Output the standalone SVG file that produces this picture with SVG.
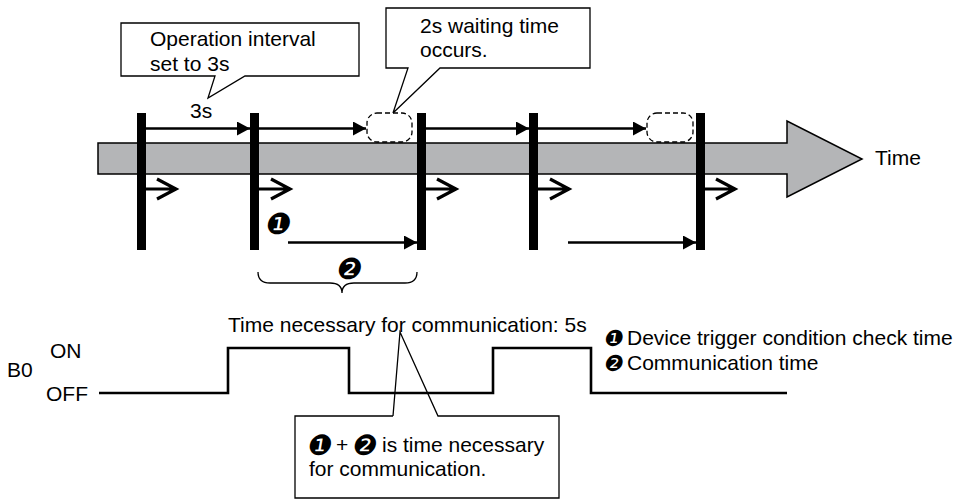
<svg xmlns="http://www.w3.org/2000/svg" width="967" height="500" viewBox="0 0 967 500">
<style>
.t{font-family:"Liberation Sans",Arial,sans-serif;font-size:21px;fill:#000}
.n{font-family:"DejaVu Sans",sans-serif;fill:#000}
.ln{stroke:#000;stroke-width:2.6;fill:none}
.thin{stroke:#000;stroke-width:1.3;fill:none}
.bar{fill:#000}
.dash{stroke:#000;stroke-width:1.3;fill:#fff;stroke-dasharray:5 3}
.chev{stroke:#000;stroke-width:3.2;fill:none;stroke-linejoin:miter;stroke-miterlimit:10}
</style>
<defs>
<marker id="ah" viewBox="0 0 13 14" refX="13" refY="7" markerWidth="13" markerHeight="14" markerUnits="userSpaceOnUse" orient="auto">
<path d="M0,0 L13,7 L0,14 Z" fill="#000"/>
</marker>
</defs>
<rect width="967" height="500" fill="#fff"/>

<g id="timeline">
<path d="M98,143 H787 V121 L862,159 L787,197 V174 H98 Z" fill="#b4b5b7" stroke="#000" stroke-width="1.5"/>
<text class="t" x="875" y="165">Time</text>
</g>

<g id="bars">
<rect class="bar" x="137" y="113" width="9" height="137"/>
<rect class="bar" x="250" y="113" width="9" height="137"/>
<rect class="bar" x="417" y="113" width="9" height="137"/>
<rect class="bar" x="529" y="113" width="9" height="137"/>
<rect class="bar" x="696" y="113" width="9" height="137"/>
</g>

<g id="waits">
<rect class="dash" x="367" y="113" width="45" height="29" rx="10"/>
<rect class="dash" x="647" y="113" width="46" height="29" rx="10"/>
</g>

<g id="connectors">
<line class="ln" x1="146" y1="128.5" x2="250" y2="128.5" marker-end="url(#ah)"/>
<line class="ln" x1="259" y1="128.5" x2="366" y2="128.5" marker-end="url(#ah)"/>
<line class="ln" x1="426" y1="128.5" x2="529" y2="128.5" marker-end="url(#ah)"/>
<line class="ln" x1="538" y1="128.5" x2="646" y2="128.5" marker-end="url(#ah)"/>
<line class="ln" x1="288" y1="242.5" x2="417" y2="242.5" marker-end="url(#ah)"/>
<line class="ln" x1="568" y1="242.5" x2="696" y2="242.5" marker-end="url(#ah)"/>
<path class="chev" d="M146,189 H174 M157,179 L176,189 L157,199"/>
<path class="chev" d="M259,189 H288 M271,179 L290,189 L271,199"/>
<path class="chev" d="M426,189 H454 M437,179 L456,189 L437,199"/>
<path class="chev" d="M538,189 H567 M550,179 L569,189 L550,199"/>
<path class="chev" d="M705,189 H733 M716,179 L735,189 L716,199"/>
</g>

<g id="callout-interval">
<path d="M121,23 H359 V76 H245 L208,98 L215,76 H121 Z" fill="#fff" stroke="#000" stroke-width="1.3"/>
<text class="t" x="150" y="46">Operation interval</text>
<text class="t" x="150" y="71">set to 3s</text>
</g>
<text class="t" x="190" y="118">3s</text>

<g id="callout-wait">
<path d="M386,8 H590 V68 H440 L393,113 L408,68 H386 Z" fill="#fff" stroke="#000" stroke-width="1.3"/>
<text class="t" x="420" y="33">2s waiting time</text>
<text class="t" x="420" y="57">occurs.</text>
</g>

<g id="marks">
<text class="n" transform="translate(264,234) skewX(-10)" font-size="29">❶</text>
<text class="n" transform="translate(335,279) skewX(-10)" font-size="29">❷</text>
<path class="thin" d="M258,272 Q258,283 270,283 H330 Q342,283 342,293 Q342,283 354,283 H405 Q417,283 417,272"/>
</g>

<g id="signal">
<text class="t" x="228" y="332">Time necessary for communication: 5s</text>
<text class="t" x="7" y="377">B0</text>
<text class="t" x="50" y="358">ON</text>
<text class="t" x="46" y="401">OFF</text>
<path class="ln" d="M99,393 H228 V348 H349 V393 H493 V348 H591 V393 H787" stroke-width="2.4"/>
</g>

<g id="callout-sum">
<path d="M393,416 H295 V498 H559 V416 H438 L400,332 L393,416" fill="none" stroke="#000" stroke-width="1.3"/>
<text class="n" transform="translate(306,455) skewX(-10)" font-size="28">❶</text>
<text class="t" x="336" y="452">+</text>
<text class="n" transform="translate(351,455) skewX(-10)" font-size="28">❷</text>
<text class="t" x="382" y="452">is time necessary</text>
<text class="t" x="309" y="476">for communication.</text>
</g>

<g id="legend">
<text class="n" transform="translate(603,346) skewX(-10)" font-size="22">❶</text>
<text class="t" x="627" y="345">Device trigger condition check time</text>
<text class="n" transform="translate(603,371) skewX(-10)" font-size="22">❷</text>
<text class="t" x="627" y="370">Communication time</text>
</g>
</svg>
